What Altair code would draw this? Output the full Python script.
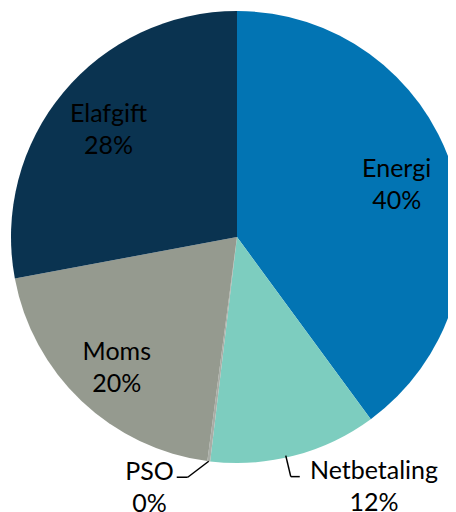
import math
import altair as alt
import pandas as pd

categories = ["Energi", "Netbetaling", "PSO", "Moms", "Elafgift"]
values = [40.0, 12.0, 0.2, 20.0, 28.0]
pct_labels = ["40%", "12%", "0%", "20%", "28%"]
colors = ["#0274B3", "#7DCDBF", "#A9ADA6", "#959A8F", "#0A3350"]

# style: label radius (px) and angular offset (deg) from slice middle
label_radius = [168, 285, 266, 178, 167]
label_shift = [0, -14, 12, -1, 0]

W, H = 440, 504
CX, CY, R = 229, 229, 226

total = sum(values)
rows = []
start = 0.0
for i, (c, v) in enumerate(zip(categories, values)):
    mid = start + v / 2
    ang = mid / total * 360 + label_shift[i]
    rows.append(dict(cat=c, value=v, order=i, label=f"{c}\n{pct_labels[i]}",
                     lang=ang * math.pi / 180, lrad=label_radius[i],
                     start=start, end=start + v))
    start += v
df = pd.DataFrame(rows)

pie = alt.Chart(df).mark_arc(outerRadius=R, stroke=None).encode(
    theta=alt.Theta("value:Q", stack=True, scale=alt.Scale(range=[0, 2 * math.pi])),
    order=alt.Order("order:O"),
    color=alt.Color("cat:N", scale=alt.Scale(domain=categories, range=colors), legend=None),
    x=alt.value(CX), y=alt.value(CY),
)

# positioning labels via polar coordinates computed from slice angles
lab_rows = []
for r in rows:
    a = r["lang"]
    lab_rows.append(dict(label=r["label"], px=CX + r["lrad"] * math.sin(a),
                         py=CY - r["lrad"] * math.cos(a)))
lab_df = pd.DataFrame(lab_rows)
labels = alt.Chart(lab_df).mark_text(
    font="Lato", fontSize=25, color="black", lineBreak="\n", lineHeight=32,
    align="center", baseline="middle", dy=-16,
).encode(
    x=alt.X("px:Q", scale=alt.Scale(domain=[0, W], range=[0, W]), axis=None),
    y=alt.Y("py:Q", scale=alt.Scale(domain=[0, H], range=[0, H]), axis=None),
    text="label:N",
)

# leader lines for the small outside slices
def edge(frac_angle_deg, rad):
    a = frac_angle_deg * math.pi / 180
    return CX + rad * math.sin(a), CY - rad * math.cos(a)

seg = []
nb = rows[1]
a_nb = (nb["start"] + nb["value"] * 0.55) / total * 360
x0, y0 = edge(a_nb, R - 2)
seg.append(dict(x=x0, y=y0, x2=x0 + 5, y2=y0 + 21))
seg.append(dict(x=x0 + 5, y=y0 + 21, x2=x0 + 14, y2=y0 + 21))
ps = rows[2]
a_ps = (ps["start"] + ps["value"] / 2) / total * 360
x1, y1 = edge(a_ps, R)
seg.append(dict(x=x1, y=y1, x2=x1 - 21, y2=y1 + 16))
seg.append(dict(x=x1 - 21, y=y1 + 16, x2=x1 - 32, y2=y1 + 16))
seg_df = pd.DataFrame(seg)
leaders = alt.Chart(seg_df).mark_rule(color="black", strokeWidth=1.5).encode(
    x=alt.X("x:Q", scale=alt.Scale(domain=[0, W], range=[0, W]), axis=None),
    y=alt.Y("y:Q", scale=alt.Scale(domain=[0, H], range=[0, H]), axis=None),
    x2="x2:Q", y2="y2:Q",
)

chart = alt.layer(pie, leaders, labels).resolve_scale(
    x="shared", y="shared"
).properties(
    width=W, height=H, padding=0, autosize=alt.AutoSizeParams(type="none"),
).configure_view(stroke=None)

chart.save("out.html", embed_options={"renderer": "svg", "actions": False})
